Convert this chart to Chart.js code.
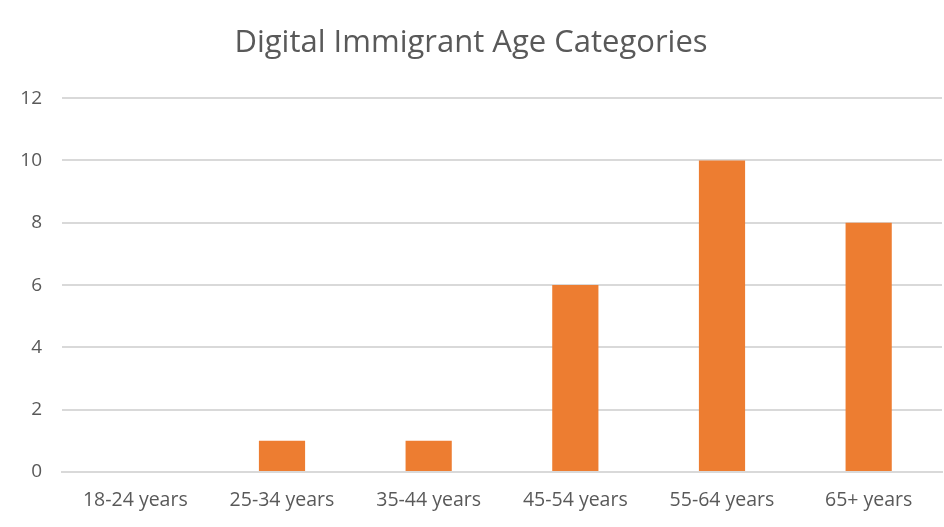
<!DOCTYPE html>
<html>
<head>
<meta charset="utf-8">
<script src="https://cdn.jsdelivr.net/npm/chart.js@4/dist/chart.umd.min.js"></script>
<style>
  html, body { margin: 0; padding: 0; background: #ffffff; }
  #wrap { width: 944px; height: 527px; position: relative; }
</style>
</head>
<body>
<div id="wrap"><canvas id="age-chart"></canvas></div>
<script>
const categories = ['18-24 years', '25-34 years', '35-44 years', '45-54 years', '55-64 years', '65+ years'];
const counts = [0, 1, 1, 6, 10, 8];
const yTicks = [0, 2, 4, 6, 8, 10, 12];

const textColor = '#595959';
const gridColor = '#d9d9d9';

Chart.defaults.font.family = "'Open Sans', 'Noto Sans', sans-serif";
Chart.defaults.color = textColor;

new Chart(document.getElementById('age-chart'), {
  type: 'bar',
  data: {
    labels: categories,
    datasets: [
      {
        label: 'Count',
        data: counts,
        backgroundColor: '#ed7d31',
        borderWidth: 0,
        categoryPercentage: 1,
        barPercentage: 0.315,
      },
    ],
  },
  options: {
    responsive: true,
    maintainAspectRatio: false,
    animation: false,
    layout: {
      padding: { left: 0, right: 2, top: 0, bottom: 0 },
    },
    plugins: {
      legend: { display: false },
      tooltip: { enabled: false },
      title: {
        display: true,
        text: 'Digital Immigrant Age Categories',
        color: textColor,
        font: { size: 31, weight: 'normal' },
        padding: { top: 25, bottom: 36 },
      },
    },
    scales: {
      x: {
        grid: { display: false, drawTicks: false },
        border: { display: true, color: gridColor, width: 2 },
        ticks: {
          color: textColor,
          font: { size: 19.5 },
          padding: 17,
          maxRotation: 0,
        },
        afterFit(scale) {
          scale.height = 55;
        },
      },
      y: {
        min: 0,
        max: 12,
        afterBuildTicks(scale) {
          scale.ticks = yTicks.map((value) => ({ value }));
        },
        grid: { color: gridColor, lineWidth: 2, drawTicks: false },
        border: { display: false },
        ticks: {
          color: textColor,
          font: { size: 19 },
          padding: 20,
        },
        afterFit(scale) {
          scale.width = 62;
        },
      },
    },
  },
});
</script>
</body>
</html>
